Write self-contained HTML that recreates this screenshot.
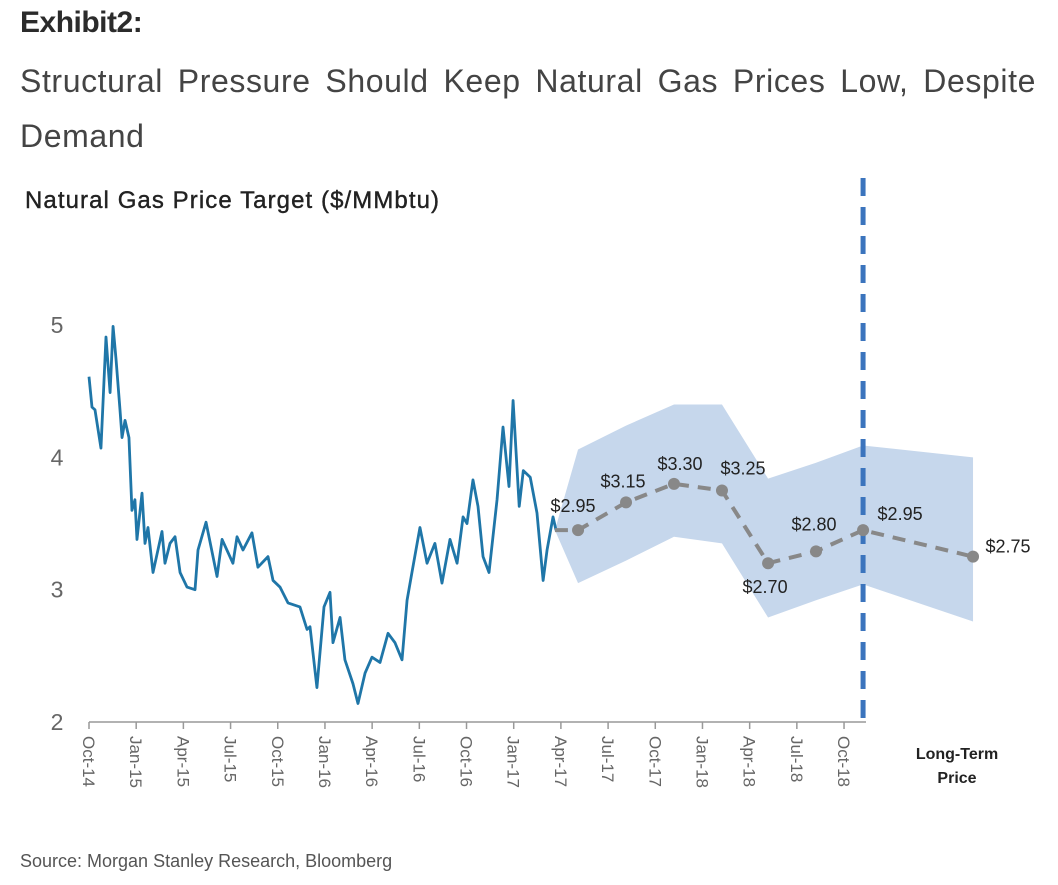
<!DOCTYPE html>
<html><head><meta charset="utf-8"><style>
body{margin:0;background:#fff;width:1058px;height:885px;overflow:hidden;font-family:"Liberation Sans",sans-serif;position:relative}
#title{position:absolute;left:20px;top:6px;font-size:30px;font-weight:bold;color:#2b2b2b;letter-spacing:-0.5px}
#sub{position:absolute;left:20px;top:54px;width:1016px;font-size:32px;letter-spacing:0.6px;color:#444;line-height:55px;text-align:justify;text-align-last:left}
#src{position:absolute;left:20px;top:851px;font-size:18px;color:#555}
svg{position:absolute;left:0;top:0}
</style></head><body>
<div id="title">Exhibit2:</div>
<div id="sub">Structural Pressure Should Keep Natural Gas Prices Low, Despite Demand</div>
<div id="src">Source: Morgan Stanley Research, Bloomberg</div>
<svg id="c" width="1058" height="885">
<text x="25" y="208" font-size="24" fill="#222" stroke="#222" stroke-width="0.4" textLength="414">Natural Gas Price Target ($/MMbtu)</text>
<text x="957" y="759" font-size="16" font-weight="bold" fill="#222" text-anchor="middle">Long-Term</text>
<text x="957" y="783" font-size="16" font-weight="bold" fill="#222" text-anchor="middle">Price</text>
</svg>
<script>
// months since Oct-2014
const histMonths=[0,0.19,0.38,0.76,1.08,1.34,1.53,1.72,1.97,2.10,2.29,2.54,2.73,2.92,3.05,3.37,3.56,3.75,4.07,4.64,4.83,5.15,5.47,5.79,6.23,6.74,6.93,7.44,8.14,8.46,9.15,9.41,9.79,10.36,10.74,11.38,11.70,12.14,12.65,13.41,13.86,14.05,14.49,14.94,15.32,15.51,15.96,16.27,16.78,17.10,17.55,17.99,18.50,19.01,19.45,19.90,20.22,20.53,21.04,21.49,21.99,22.44,22.95,23.40,23.78,24.03,24.41,24.73,25.05,25.43,25.94,26.32,26.70,26.96,27.35,27.61,28.05,28.48,28.87,29.12,29.50,29.69];
const histPrices=[4.61,4.38,4.36,4.07,4.91,4.49,4.99,4.74,4.36,4.15,4.28,4.15,3.60,3.68,3.38,3.73,3.35,3.47,3.13,3.44,3.20,3.35,3.40,3.13,3.02,3.00,3.30,3.51,3.10,3.38,3.20,3.40,3.30,3.43,3.17,3.25,3.07,3.02,2.90,2.87,2.70,2.72,2.26,2.87,2.98,2.60,2.79,2.47,2.29,2.14,2.37,2.49,2.45,2.67,2.60,2.47,2.92,3.13,3.47,3.20,3.35,3.05,3.38,3.20,3.55,3.50,3.83,3.63,3.25,3.13,3.68,4.23,3.78,4.43,3.63,3.90,3.85,3.58,3.07,3.30,3.55,3.45];
const fcMonths=[29.62,31.09,34.14,37.19,40.24,43.17,46.22,49.21,56.2];
const fcPlot=[3.45,3.45,3.66,3.80,3.75,3.20,3.29,3.45,3.25];
const fcLabels=["","$2.95","$3.15","$3.30","$3.25","$2.70","$2.80","$2.95","$2.75"];
const bandUpper=[3.45,4.06,4.24,4.40,4.40,3.84,3.96,4.09,4.00];
const bandLower=[3.45,3.05,3.22,3.40,3.35,2.79,2.92,3.04,2.76];
const dividerMonth=49.21;
const yTicks=[2,3,4,5];
const xTickLabels=["Oct-14","Jan-15","Apr-15","Jul-15","Oct-15","Jan-16","Apr-16","Jul-16","Oct-16","Jan-17","Apr-17","Jul-17","Oct-17","Jan-18","Apr-18","Jul-18","Oct-18"];

const NS="http://www.w3.org/2000/svg",svg=document.getElementById('c');
const X=m=>89+m*15.73, Y=v=>722-(v-2)*132.3;
function mk(t,a){const e=document.createElementNS(NS,t);for(const k in a)e.setAttribute(k,a[k]);svg.appendChild(e);return e;}
let pts=fcMonths.map((m,i)=>X(m)+','+Y(bandUpper[i]));
for(let i=fcMonths.length-1;i>=0;i--)pts.push(X(fcMonths[i])+','+Y(bandLower[i]));
let band=mk('polygon',{points:pts.join(' '),fill:'#c6d7ec'});


let ax=mk('line',{x1:89,y1:722,x2:866,y2:722,stroke:'#999','stroke-width':1.5});


xTickLabels.forEach((l,i)=>{
  const x=89+i*3*15.73;
  let t=mk('line',{x1:x,y1:722,x2:x,y2:729,stroke:'#999','stroke-width':1.5});
  
  
  let tx=mk('text',{x:0,y:0,'font-size':17,fill:'#666',transform:`translate(${x-6},736) rotate(90)`});
  tx.textContent=l;
  
  
});
yTicks.forEach(v=>{
  let t=mk('text',{x:57,y:Y(v)+8,'font-size':23,fill:'#666','text-anchor':'middle'});
  t.textContent=v;
  
  
});
let hl=mk('polyline',{points:histMonths.map((m,i)=>X(m)+','+Y(histPrices[i])).join(' '),fill:'none',stroke:'#1f76a8','stroke-width':2.8,'stroke-linejoin':'round'});


let dv=mk('line',{x1:X(dividerMonth),y1:178,x2:X(dividerMonth),y2:722,stroke:'#3b74bd','stroke-width':5,'stroke-dasharray':'18 11'});


let fl=mk('polyline',{points:fcMonths.map((m,i)=>X(m)+','+Y(fcPlot[i])).join(' '),fill:'none',stroke:'#888','stroke-width':4,'stroke-dasharray':'13 9'});


const lblOff=[[0,0],[-5,-18],[-3,-15],[6,-14],[21,-16],[-3,30],[-2,-21],[37,-10],[35,-4]];
fcMonths.forEach((m,i)=>{
  if(i===0)return;
  let c=mk('circle',{cx:X(m),cy:Y(fcPlot[i]),r:6,fill:'#888'});
  
  
  let t=mk('text',{x:X(m)+lblOff[i][0],y:Y(fcPlot[i])+lblOff[i][1],'font-size':18,fill:'#222','text-anchor':'middle'});
  t.textContent=fcLabels[i];
  
  
});
</script>
</body></html>
